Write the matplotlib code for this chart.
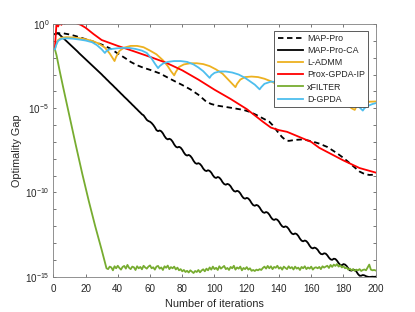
import numpy as np
import matplotlib
matplotlib.use('Agg')
import matplotlib.pyplot as plt
from matplotlib.ticker import FixedLocator, FixedFormatter

plt.rcParams['font.family'] = ['Liberation Sans', 'DejaVu Sans']
plt.rcParams['mathtext.fontset'] = 'custom'
plt.rcParams['mathtext.rm'] = 'Liberation Sans'
plt.rcParams['mathtext.it'] = 'Liberation Sans:italic'

# values are log10 of the optimality gap

# MAP-Pro (dashed black)
map_pro_it = [1, 3, 6, 10, 14, 19, 25, 30, 35, 40, 45, 48, 52, 56, 60, 66, 70, 75, 80, 85,
              90, 93, 95, 98, 102, 110, 118, 122, 126, 130, 134, 136, 138, 140, 142, 144, 146,
              150, 155, 161, 165, 170, 176, 180, 184, 188, 190, 193, 196, 200]
map_pro_exp = [-0.60, -0.55, -0.55, -0.62, -0.72, -0.87, -1.05, -1.22, -1.44, -1.75, -2.05,
               -2.25, -2.45, -2.60, -2.72, -2.93, -3.13, -3.38, -3.62, -3.88, -4.20, -4.45,
               -4.62, -4.75, -4.85, -4.97, -5.10, -5.22, -5.40, -5.60, -5.80, -6.00, -6.25,
               -6.50, -6.72, -6.88, -6.94, -6.88, -6.85, -6.98, -7.10, -7.30, -7.67, -7.95,
               -8.27, -8.60, -8.76, -8.90, -8.96, -8.94]

# MAP-Pro-CA (solid black), one value per iteration 1..200
map_pro_ca_exp = [
    -0.60, -0.55, -0.55, -0.64, -0.73, -0.82, -0.91, -1.00, -1.09, -1.18,
    -1.27, -1.36, -1.45, -1.54, -1.63, -1.73, -1.82, -1.91, -2.00, -2.09,
    -2.18, -2.27, -2.36, -2.45, -2.54, -2.63, -2.72, -2.81, -2.90, -2.99,
    -3.09, -3.18, -3.28, -3.37, -3.47, -3.56, -3.65, -3.75, -3.84, -3.94,
    -4.03, -4.13, -4.22, -4.32, -4.41, -4.50, -4.60, -4.69, -4.79, -4.88,
    -4.98, -5.07, -5.17, -5.26, -5.36, -5.42, -5.56, -5.69, -5.76, -5.80,
    -5.88, -5.99, -6.13, -6.30, -6.36, -6.32, -6.37, -6.49, -6.66, -6.79,
    -6.85, -6.81, -6.86, -6.98, -7.15, -7.28, -7.33, -7.29, -7.34, -7.46,
    -7.63, -7.76, -7.81, -7.77, -7.83, -7.95, -8.12, -8.25, -8.30, -8.26,
    -8.31, -8.42, -8.58, -8.69, -8.73, -8.68, -8.72, -8.82, -8.98, -9.10,
    -9.14, -9.08, -9.12, -9.23, -9.39, -9.50, -9.54, -9.49, -9.53, -9.63,
    -9.79, -9.91, -9.95, -9.90, -9.94, -10.05, -10.21, -10.33, -10.37, -10.32,
    -10.36, -10.47, -10.63, -10.75, -10.79, -10.74, -10.78, -10.89, -11.05, -11.17,
    -11.21, -11.16, -11.20, -11.31, -11.47, -11.59, -11.63, -11.58, -11.62, -11.73,
    -11.89, -12.01, -12.06, -12.01, -12.05, -12.16, -12.32, -12.44, -12.48, -12.43,
    -12.47, -12.58, -12.74, -12.86, -12.90, -12.85, -12.89, -13.00, -13.16, -13.28,
    -13.32, -13.27, -13.31, -13.40, -13.55, -13.65, -13.67, -13.61, -13.63, -13.73,
    -13.87, -13.97, -14.00, -13.93, -13.95, -14.05, -14.19, -14.30, -14.32, -14.25,
    -14.28, -14.37, -14.51, -14.62, -14.64, -14.58, -14.60, -14.69, -14.84, -14.94,
    -14.94, -14.90, -14.92, -14.97, -15.00, -15.02, -15.01, -15.00, -15.01, -15.00]

# L-ADMM
ladmm_it = [1, 2, 3, 5, 8, 12, 16, 20, 24, 28, 32, 35, 37, 38, 39, 41, 44, 48, 52, 56, 60,
            64, 68, 71, 73, 75, 76, 78, 81, 85, 89, 93, 97, 101, 105, 108, 111, 113, 114,
            116, 119, 123, 127, 131, 135, 140, 145, 148, 150, 151, 154, 158, 163, 168, 173,
            178, 182, 185, 187, 188, 190, 194, 200]
ladmm_exp = [-1.50, -1.15, -0.95, -0.82, -0.78, -0.80, -0.84, -0.90, -1.00, -1.15, -1.40,
             -1.75, -2.05, -2.20, -1.95, -1.60, -1.40, -1.30, -1.30, -1.38, -1.58, -1.80,
             -2.15, -2.50, -2.80, -3.05, -2.85, -2.55, -2.40, -2.33, -2.33, -2.38, -2.50,
             -2.70, -2.95, -3.25, -3.55, -3.75, -3.55, -3.30, -3.15, -3.12, -3.15, -3.25,
             -3.40, -3.65, -4.00, -4.30, -4.50, -4.35, -4.10, -3.95, -3.95, -4.05, -4.25,
             -4.50, -4.75, -5.00, -5.10, -4.90, -4.70, -4.62, -4.60]

# Prox-GPDA-IP
prox_it = [1, 2, 3, 4, 5, 6, 7, 8, 9, 10, 12, 14, 17, 20, 25, 30, 40, 50, 60, 70, 80, 90,
           100, 110, 120, 130, 135, 140, 145, 150, 160, 165, 170, 180, 190, 200]
prox_exp = [-1.45, 0.05, -0.15, 0.10, -0.05, 0.10, 0.02, 0.10, 0.08, 0.10, 0.10, 0.06,
            -0.05, -0.22, -0.60, -0.95, -1.30, -1.62, -1.95, -2.30, -2.75, -3.30, -3.90,
            -4.45, -5.05, -5.80, -6.15, -6.30, -6.40, -6.60, -7.00, -7.35, -7.60, -8.10,
            -8.55, -8.82]

# xFILTER: fast drop, then noise floor from iteration 34 on
xfilter_head_it = [1, 2, 4, 6, 10, 14, 18, 22, 26, 30, 33]
xfilter_head_exp = [-1.50, -1.85, -2.80, -3.70, -5.45, -7.20, -8.90, -10.50, -12.00,
                    -13.40, -14.50]
xfilter_floor_exp = [
    -14.55, -14.40, -14.45, -14.62, -14.38, -14.50, -14.35, -14.48, -14.58, -14.42,
    -14.36, -14.52, -14.30, -14.47, -14.55, -14.40, -14.44, -14.60, -14.38, -14.50,
    -14.42, -14.56, -14.35, -14.45, -14.52, -14.40, -14.33, -14.50, -14.44, -14.58,
    -14.40, -14.36, -14.52, -14.45, -14.60, -14.38, -14.47, -14.34, -14.55, -14.43,
    -14.50, -14.40, -14.57, -14.46, -14.62, -14.55, -14.68, -14.60, -14.72, -14.65,
    -14.75, -14.62, -14.70, -14.78, -14.66, -14.72, -14.60, -14.74, -14.63, -14.56,
    -14.68, -14.52, -14.62, -14.45, -14.58, -14.40, -14.55, -14.47, -14.60, -14.38,
    -14.52, -14.44, -14.36, -14.55, -14.48, -14.60, -14.42, -14.50, -14.35, -14.58,
    -14.45, -14.52, -14.40, -14.62, -14.48, -14.55, -14.43, -14.58, -14.50, -14.65,
    -14.60, -14.66, -14.58, -14.62, -14.55, -14.60, -14.48, -14.40, -14.52, -14.36,
    -14.50, -14.38, -14.55, -14.42, -14.47, -14.35, -14.52, -14.44, -14.58, -14.40,
    -14.48, -14.55, -14.38, -14.50, -14.43, -14.57, -14.40, -14.52, -14.46, -14.60,
    -14.42, -14.50, -14.38, -14.55, -14.45, -14.52, -14.40, -14.58, -14.47, -14.44,
    -14.50, -14.42, -14.55, -14.38, -14.46, -14.40, -14.35, -14.48, -14.30, -14.42,
    -14.28, -14.36, -14.25, -14.40, -14.32, -14.45, -14.38, -14.50, -14.46, -14.58,
    -14.52, -14.62, -14.55, -14.65, -14.58, -14.62, -14.55, -14.66, -14.60, -14.57,
    -14.62, -14.45, -14.28, -14.58, -14.62, -14.60, -14.63]

# D-GPDA
dgpda_it = [1, 2, 3, 5, 8, 12, 16, 20, 24, 27, 30, 32, 33, 35, 39, 43, 47, 51, 55, 58, 61,
            63, 65, 66, 68, 71, 75, 79, 83, 87, 90, 93, 95, 97, 98, 100, 103, 107, 111, 115,
            119, 122, 125, 128, 129, 131, 135, 140, 145, 150, 155, 158, 160, 161, 164, 168,
            172, 176, 180, 184, 188, 190, 192, 193, 195, 198, 200]
dgpda_exp = [-1.50, -1.20, -1.00, -0.88, -0.85, -0.87, -0.92, -0.98, -1.08, -1.25, -1.50,
             -1.72, -1.60, -1.50, -1.45, -1.42, -1.42, -1.48, -1.58, -1.72, -2.05, -2.35,
             -2.62, -2.50, -2.35, -2.25, -2.20, -2.20, -2.25, -2.40, -2.58, -2.80, -3.00,
             -3.20, -3.05, -2.90, -2.82, -2.82, -2.88, -3.00, -3.20, -3.40, -3.60, -3.88,
             -3.75, -3.55, -3.42, -3.45, -3.60, -3.80, -4.10, -4.35, -4.50, -4.35, -4.15,
             -4.05, -4.10, -4.20, -4.35, -4.55, -4.80, -4.95, -5.14, -5.00, -4.87, -4.75,
             -4.70]

ca_it = np.arange(1, len(map_pro_ca_exp) + 1)
xfilter_it = xfilter_head_it + list(range(34, 34 + len(xfilter_floor_exp)))
xfilter_exp = xfilter_head_exp + xfilter_floor_exp

fig = plt.figure(figsize=(4.15, 3.12), dpi=100)
ax = fig.add_axes([0.1284, 0.1131, 0.7769, 0.81])

lw = 1.3
ax.plot(map_pro_it, 10.0 ** np.array(map_pro_exp), color='k', lw=lw,
        linestyle=(0, (3, 2)), label='MAP-Pro')
ax.plot(ca_it, 10.0 ** np.array(map_pro_ca_exp), color='k', lw=lw, label='MAP-Pro-CA')
ax.plot(ladmm_it, 10.0 ** np.array(ladmm_exp), color='#EDB120', lw=lw, label='L-ADMM')
ax.plot(prox_it, 10.0 ** np.array(prox_exp), color='#FF0000', lw=lw, label='Prox-GPDA-IP')
ax.plot(xfilter_it, 10.0 ** np.array(xfilter_exp), color='#77AC30', lw=lw, label='xFILTER')
ax.plot(dgpda_it, 10.0 ** np.array(dgpda_exp), color='#4DBEEE', lw=lw, label='D-GPDA')

ax.set_yscale('log')
ax.set_xlim(0, 200)
ax.set_ylim(1e-15, 1e0)
ax.set_xticks(np.arange(0, 201, 20))

decades = list(range(-15, 1))
ax.yaxis.set_major_locator(FixedLocator([10.0 ** d for d in decades]))
ax.yaxis.set_major_formatter(FixedFormatter(
    [r'$10^{%d}$' % d if d % 5 == 0 else '' for d in decades]))
ax.yaxis.set_minor_locator(FixedLocator([]))

axis_gray = '#262626'
for s in ax.spines.values():
    s.set_color('#808080')
    s.set_linewidth(0.6)
ax.tick_params(which='both', direction='in', top=True, right=True, length=2.5,
               width=0.5, color='#404040', labelcolor=axis_gray, labelsize=7.1)
ax.tick_params(axis='x', pad=5)
ax.tick_params(axis='y', pad=3)

ax.set_xlabel('Number of iterations', fontsize=7.8, color=axis_gray, labelpad=4)
ax.set_ylabel('Optimality Gap', fontsize=7.8, color=axis_gray, labelpad=2)

leg = ax.legend(loc='upper right', bbox_to_anchor=(0.977, 0.974), borderaxespad=0,
                fontsize=6.4, frameon=True, fancybox=False, framealpha=1,
                handlelength=2.9, handletextpad=0.4, labelspacing=0.35,
                borderpad=0.4)
leg.get_frame().set_edgecolor('#404040')
leg.get_frame().set_linewidth(0.6)
for t in leg.get_texts():
    t.set_color(axis_gray)

fig.savefig('out.png', dpi=100)
